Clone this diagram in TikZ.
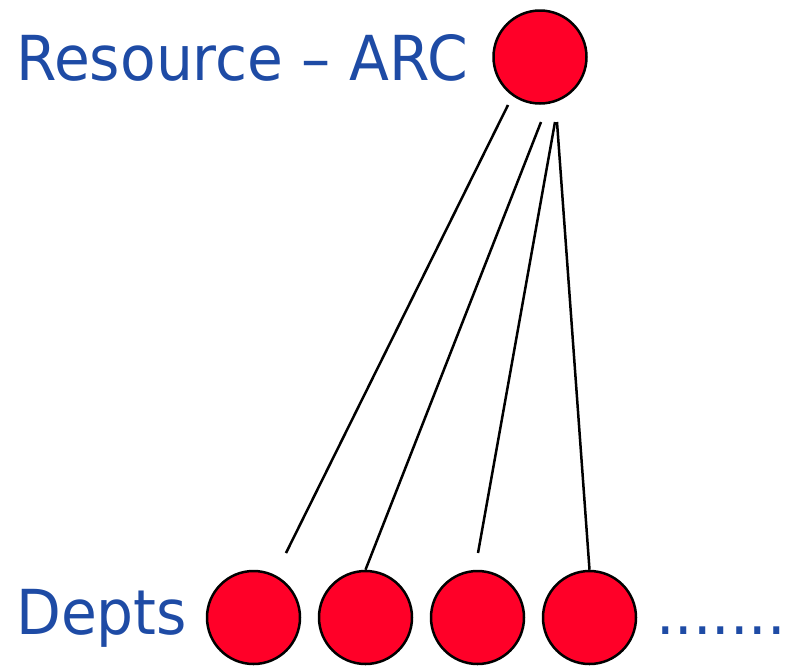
\documentclass[tikz,border=0pt]{standalone}
\usepackage{fontspec}
\setmainfont{DejaVu Sans}[FakeStretch=0.94]
\definecolor{dotred}{RGB}{255,0,40}
\definecolor{txtblue}{RGB}{30,75,165}
\begin{document}
\begin{tikzpicture}[x=1pt,y=-1pt,
  dot/.style={circle,draw=black,line width=2.5pt,fill=dotred,minimum size=93pt,inner sep=0pt},
  lbl/.style={text=txtblue,font=\fontsize{62}{62}\selectfont,inner sep=0pt,anchor=base west},
  link/.style={line width=2.5pt,draw=black}]
\useasboundingbox (0,0) rectangle (786,667);
\node[dot] (top) at (540,57) {};
\node[dot] (d1) at (253.5,617.5) {};
\node[dot] (d2) at (365.5,617.5) {};
\node[dot] (d3) at (477.5,617.5) {};
\node[dot] (d4) at (589.5,617.5) {};
\node[lbl] (res) at (16,80) {Resource – ARC};
\node[lbl] (depts) at (16,634) {Depts};
\node[lbl] (more) at (656,634) {.......};
\coordinate (a1) at (508,105);
\coordinate (b1) at (286,553);
\coordinate (a2) at (541,122);
\coordinate (a3) at (555,122);
\coordinate (b3) at (478,553);
\coordinate (a4) at (557,122);
\draw[link] (a1) -- (b1);
\draw[link] (a2) -- (d2.north);
\draw[link] (a3) -- (b3);
\draw[link] (a4) -- (d4.north);
\end{tikzpicture}
\end{document}
